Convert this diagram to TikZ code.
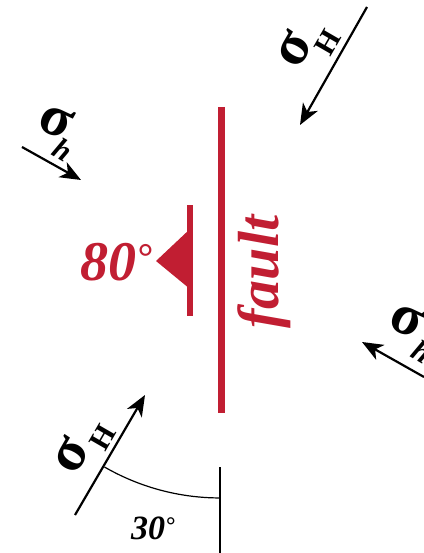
\documentclass[tikz,border=0pt]{standalone}
\usepackage{fontspec}
\setmainfont{Liberation Serif}
\usetikzlibrary{arrows.meta}
\definecolor{faultred}{RGB}{193,30,50}
\newcommand\smalldeg{{\fontsize{0.7em}{0.7em}\selectfont\raisebox{0.25em}{°}}}
\tikzset{
  stressarrow/.style={line width=2.2pt,-{Stealth[length=21pt,width=17pt,inset=6pt]}},
  sigmalbl/.style={inner sep=0pt,font=\fontsize{58}{58}\selectfont\bfseries},
  sublbl/.style={inner sep=0pt,font=\fontsize{30}{30}\selectfont\bfseries},
  faultline/.style={faultred,line width=7pt},
  symline/.style={faultred,line width=6pt},
  redtext/.style={faultred,inner sep=0pt,font=\fontsize{#1}{#1}\selectfont\bfseries\itshape},
  blacktext/.style={inner sep=0pt,font=\fontsize{#1}{#1}\selectfont\bfseries\itshape},
}
\begin{document}
\begin{tikzpicture}[x=1pt,y=1pt]
\path[use as bounding box] (0,0) rectangle (423,-553);
% fault
\coordinate (fault-top) at (221.5,-107);
\coordinate (fault-bot) at (221.5,-413);
\draw[faultline] (fault-top) -- (fault-bot);
\node[redtext=58,rotate=90] (fault-lbl) at (264,-272) {fault};
% strike/dip symbol
\coordinate (sym-top) at (190,-205);
\coordinate (sym-bot) at (190,-316);
\draw[symline] (sym-top) -- (sym-bot);
\coordinate (tri-apex) at (156,-261);
\coordinate (tri-up) at (190,-229);
\coordinate (tri-dn) at (190,-289);
\fill[faultred] (tri-apex) -- (tri-up) -- (tri-dn) -- cycle;
\node[redtext=56] (dip-lbl) at (116,-262) {80\smalldeg};
% top-left sigma_h
\coordinate (tl-tail) at (22,-147);
\coordinate (tl-tip) at (81,-180);
\draw[stressarrow] (tl-tail) -- (tl-tip);
\node[sigmalbl,rotate=-25] (tl-sig) at (56,-121) {σ};
\node[sublbl,rotate=-30] (tl-sub) at (63,-150) {\itshape h};
% top-right sigma_H
\coordinate (tr-tail) at (367,-7);
\coordinate (tr-tip) at (300,-125);
\draw[stressarrow] (tr-tail) -- (tr-tip);
\node[sigmalbl,rotate=60] (tr-sig) at (294,-49) {σ};
\node[sublbl,rotate=60] (tr-sub) at (328,-42) {H};
% bottom-left sigma_H
\coordinate (bl-tail) at (75,-515);
\coordinate (bl-tip) at (145,-395);
\draw[stressarrow] (bl-tail) -- (bl-tip);
\node[sigmalbl,rotate=60] (bl-sig) at (71,-455) {σ};
\node[sublbl,rotate=60] (bl-sub) at (103,-437) {H};
% right sigma_h
\coordinate (r-tail) at (424,-377);
\coordinate (r-tip) at (362,-342);
\draw[stressarrow] (r-tail) -- (r-tip);
\node[sigmalbl,rotate=-25] (r-sig) at (407,-320) {σ};
\node[sublbl,rotate=-30] (r-sub) at (422,-352) {\itshape h};
% angle
\coordinate (ref-top) at (220,-467);
\coordinate (ref-bot) at (220,-553);
\draw[line width=1.5pt] (ref-top) -- (ref-bot);
\coordinate (arc-start) at (104.5,-467);
\draw[line width=1.2pt] (arc-start) arc[start angle=240,end angle=270,radius=231];
\node[blacktext=34] (ang-lbl) at (153,-528) {30\smalldeg};
\end{tikzpicture}
\end{document}
